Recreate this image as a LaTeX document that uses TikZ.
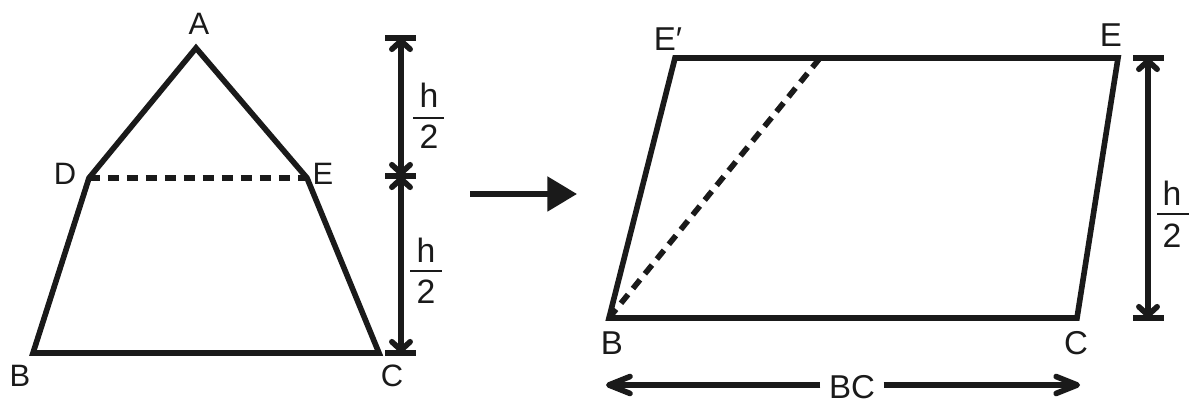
\documentclass[tikz,border=0pt]{standalone}
\usepackage{fontspec}
\setmainfont{Liberation Sans}
\usetikzlibrary{arrows.meta}
\definecolor{ink}{HTML}{1A1A1A}
\begin{document}
\begin{tikzpicture}[x=0.025cm,y=-0.025cm,
  lbl/.style={inner sep=0pt,text=ink,font=\fontsize{22}{26}\selectfont},
  lblr/.style={inner sep=0pt,text=ink,font=\fontsize{23.5}{28}\selectfont},
  fracnum/.style={inner sep=0pt,text=ink,font=\fontsize{24}{28}\selectfont},
  fig/.style={line width=4pt,draw=ink},
  dashln/.style={line width=4pt,draw=ink,dash pattern=on 8pt off 5.5pt},
  barb/.tip={Straight Barb[length=6pt,width=13pt,line cap=round,line join=round]},
  longbarb/.tip={Straight Barb[length=15pt,width=12pt,line cap=round,line join=round]},
  dimarr/.style={line width=4pt,draw=ink,barb-barb},
  bcarr/.style={line width=4pt,draw=ink,-longbarb},
  tickbar/.style={line width=4pt,draw=ink},
  fracbar/.style={line width=2pt,draw=ink},
  bigarr/.style={line width=4pt,draw=ink,-{Triangle[length=21pt,width=24pt]}},
]
\useasboundingbox (0,0) rectangle (1200,411);

% ---------- left figure ----------
\coordinate (A) at (196,48);
\coordinate (D) at (89,178);
\coordinate (E) at (307,178);
\coordinate (B) at (33,353);
\coordinate (C) at (379,353);
\draw[fig] (B) -- (D) -- (A) -- (E) -- (C) -- cycle;
\draw[dashln] (D) -- (E);

\node[lbl] (lA) at (199,24) {A};
\node[lbl] (lD) at (65,174) {D};
\node[lbl] (lE) at (323,174) {E};
\node[lbl] (lB) at (20,376) {B};
\node[lbl] (lC) at (392,376) {C};

% left dimension
\coordinate (t1) at (401,38);
\coordinate (t2) at (401,176);
\coordinate (t3) at (401,353);
\draw[tickbar] (385,38) -- (416,38);
\draw[tickbar] (385,176) -- (416,176);
\draw[tickbar] (385,353) -- (416,353);
\draw[dimarr] (t1) -- (t2);
\draw[dimarr] (t2) -- (t3);

\node[fracnum] (h1) at (429,95) {h};
\draw[fracbar] (413,118) -- (444,118);
\node[fracnum] (d1) at (429,137) {2};
\node[fracnum] (h2) at (426,250) {h};
\draw[fracbar] (410,271) -- (442,271);
\node[fracnum] (d2) at (426,292) {2};

% middle arrow
\coordinate (m1) at (470,194);
\coordinate (m2) at (577,194);
\draw[bigarr] (m1) -- (m2);

% ---------- right figure ----------
\coordinate (Ep) at (675,58);
\coordinate (E2) at (1118,58);
\coordinate (C2) at (1077,318);
\coordinate (B2) at (609,318);
\coordinate (F) at (820,58);
\draw[fig] (B2) -- (Ep) -- (E2) -- (C2) -- cycle;
\draw[dashln] (B2) -- (F);

\node[lblr] (lEp) at (668,39) {E′};
\node[lblr] (lE2) at (1111,35) {E};
\node[lblr] (lB2) at (612,343) {B};
\node[lblr] (lC2) at (1076,343) {C};

% right dimension
\coordinate (r1) at (1148,58);
\coordinate (r2) at (1148,318);
\draw[tickbar] (1133,58) -- (1164,58);
\draw[tickbar] (1133,318) -- (1164,318);
\draw[dimarr] (r1) -- (r2);
\node[fracnum] (h3) at (1172,193) {h};
\draw[fracbar] (1157,214) -- (1189,214);
\node[fracnum] (d3) at (1172,236) {2};

% BC arrow
\node[lblr,inner xsep=6pt] (bc) at (852,387) {BC};
\coordinate (bcl) at (606,385);
\coordinate (bcr) at (1080,385);
\draw[bcarr] (bc.west |- bcl) -- (bcl);
\draw[bcarr] (bc.east |- bcr) -- (bcr);
\end{tikzpicture}
\end{document}
